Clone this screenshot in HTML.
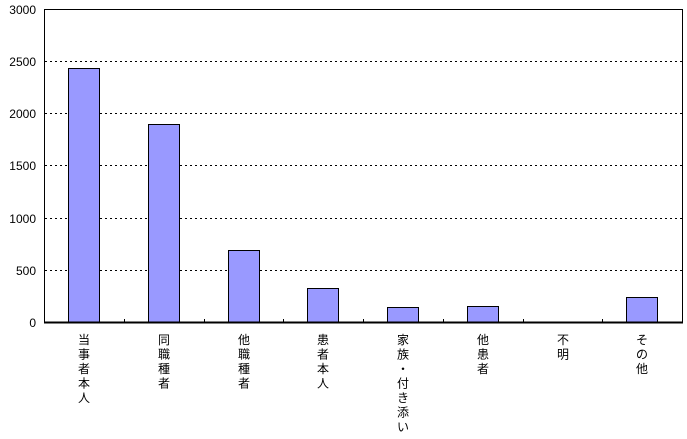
<!DOCTYPE html>
<html><head><meta charset="utf-8"><style>
body{margin:0;background:#fff;}
text{font-family:"Liberation Sans","Noto Sans CJK JP",sans-serif;font-size:12px;fill:#000}
</style></head><body>
<svg width="687" height="434" xmlns="http://www.w3.org/2000/svg">
<g stroke="#000" stroke-width="1" stroke-dasharray="2,3">
<line x1="45" y1="61.5" x2="682" y2="61.5"/>
<line x1="45" y1="113.5" x2="682" y2="113.5"/>
<line x1="45" y1="165.5" x2="682" y2="165.5"/>
<line x1="45" y1="218.5" x2="682" y2="218.5"/>
<line x1="45" y1="270.5" x2="682" y2="270.5"/>
</g>
<g fill="#9999ff" stroke="#000" stroke-width="1">
<rect x="68.5" y="68.5" width="31" height="253.5"/>
<rect x="148.5" y="124.5" width="31" height="197.5"/>
<rect x="228.5" y="250.5" width="31" height="71.5"/>
<rect x="307.5" y="288.5" width="31" height="33.5"/>
<rect x="387.5" y="307.5" width="31" height="14.5"/>
<rect x="467.5" y="306.5" width="31" height="15.5"/>
<rect x="626.5" y="297.5" width="31" height="24.5"/>
</g>
<polyline points="44.5,9.5 682.5,9.5 682.5,322" fill="none" stroke="#000" stroke-width="1"/>
<line x1="44.5" y1="9" x2="44.5" y2="323" stroke="#000" stroke-width="1"/>
<line x1="44" y1="322.5" x2="683" y2="322.5" stroke="#000" stroke-width="2"/>
<g stroke="#000">
<line x1="124.5" y1="319" x2="124.5" y2="322"/><line x1="204.5" y1="319" x2="204.5" y2="322"/>
<line x1="283.5" y1="319" x2="283.5" y2="322"/><line x1="363.5" y1="319" x2="363.5" y2="322"/>
<line x1="443.5" y1="319" x2="443.5" y2="322"/><line x1="523.5" y1="319" x2="523.5" y2="322"/>
<line x1="602.5" y1="319" x2="602.5" y2="322"/>
</g>
<g text-anchor="end">
<text x="36" y="14">3000</text><text x="36" y="66">2500</text><text x="36" y="118">2000</text>
<text x="36" y="170">1500</text><text x="36" y="223">1000</text><text x="36" y="275">500</text>
<text x="36" y="327">0</text>
</g>
<g text-anchor="middle">
<text x="84" y="344">当</text><text x="84" y="358.5">事</text><text x="84" y="373">者</text><text x="84" y="387.5">本</text><text x="84" y="402">人</text>
<text x="164" y="344">同</text><text x="164" y="358.5">職</text><text x="164" y="373">種</text><text x="164" y="387.5">者</text>
<text x="244" y="344">他</text><text x="244" y="358.5">職</text><text x="244" y="373">種</text><text x="244" y="387.5">者</text>
<text x="323" y="344">患</text><text x="323" y="358.5">者</text><text x="323" y="373">本</text><text x="323" y="387.5">人</text>
<text x="403" y="344">家</text><text x="403" y="358.5">族</text><text x="403" y="373">・</text><text x="403" y="387.5">付</text><text x="403" y="402">き</text><text x="403" y="416.5">添</text><text x="403" y="431">い</text>
<text x="483" y="344">他</text><text x="483" y="358.5">患</text><text x="483" y="373">者</text>
<text x="563" y="344">不</text><text x="563" y="358.5">明</text>
<text x="642" y="344">そ</text><text x="642" y="358.5">の</text><text x="642" y="373">他</text>
</g>
</svg>
</body></html>
